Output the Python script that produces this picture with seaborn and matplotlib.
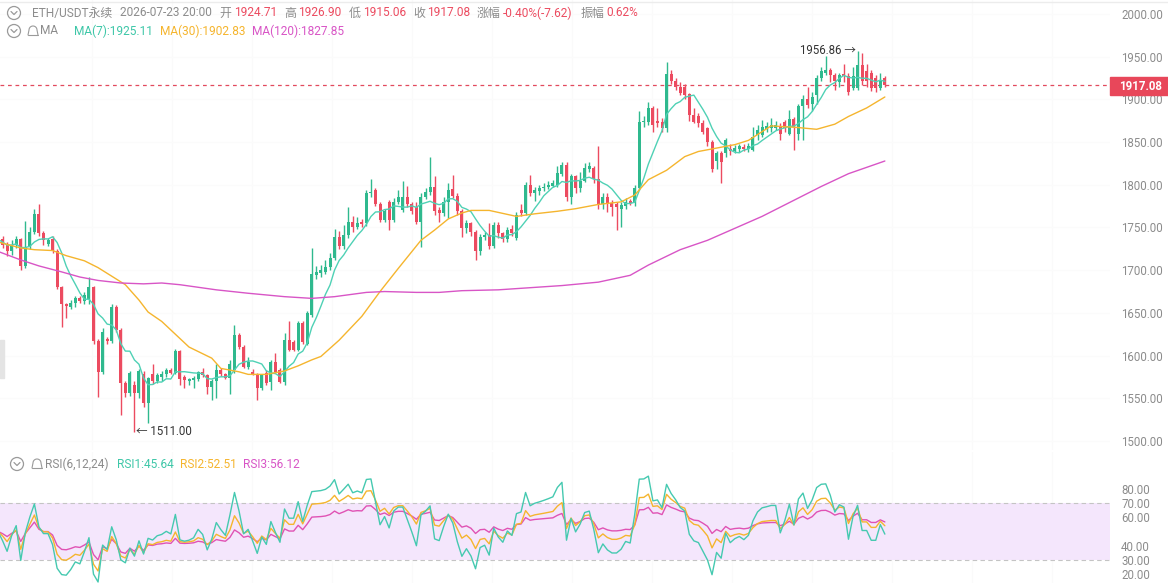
import numpy as np
import pandas as pd
import matplotlib
matplotlib.use("Agg")
import matplotlib.pyplot as plt
from matplotlib.patches import Rectangle, Ellipse
import seaborn as sns

# ---------------- data ----------------
opens = [1733,1736,1731,1722,1730,1736,1705,1727,1745,1766,1743,1731,1736,1723,1680,1660,1657,1661,1667,1664,
         1666,1680,1617,1581,1620,1617,1657,1630,1568,1556,1566,1556,1578,1545,1579,1570,1575,1578,1583,1580,
         1605,1575,1570,1571,1573,1581,1577,1563,1570,1583,1578,1574,1583,1624,1610,1587,1581,1577,1562,1580,
         1569,1593,1583,1569,1618,1616,1607,1638,1614,1648,1694,1697,1698,1704,1714,1739,1728,1741,1757,1751,
         1756,1755,1790,1794,1778,1759,1780,1759,1780,1770,1786,1778,1774,1757,1786,1791,1798,1770,1767,1780,
         1795,1787,1769,1749,1755,1745,1722,1739,1741,1728,1753,1743,1737,1748,1738,1771,1767,1800,1790,1793,
         1796,1797,1799,1800,1813,1823,1786,1810,1796,1805,1818,1820,1807,1778,1786,1779,1778,1772,1775,1781,
         1779,1796,1873,1874,1890,1875,1874,1866,1930,1921,1915,1915,1906,1882,1880,1872,1866,1850,1828,1837,
         1837,1842,1840,1842,1844,1842,1841,1858,1858,1865,1866,1867,1869,1873,1860,1877,1860,1892,1901,1895,
         1905,1925,1931,1934,1929,1920,1930,1927,1913,1913,1940,1933,1931,1925,1913,1924.71]
highs = [1738,1740,1733,1735,1740,1738,1758,1750,1772,1778,1746,1738,1740,1725,1682,1662,1665,1670,1670,1675,
         1692,1682,1620,1632,1622,1660,1659,1632,1570,1582,1570,1584,1582,1575,1590,1580,1582,1585,1585,1608,
         1607,1577,1574,1576,1582,1585,1579,1572,1590,1586,1580,1595,1636,1626,1612,1598,1584,1580,1579,1583,
         1595,1603,1585,1626,1641,1618,1640,1640,1652,1726,1705,1706,1712,1720,1748,1746,1753,1774,1763,1762,
         1760,1794,1807,1796,1780,1772,1782,1785,1794,1804,1799,1780,1780,1790,1796,1833,1810,1774,1786,1802,
         1811,1790,1772,1759,1757,1747,1742,1745,1755,1757,1757,1745,1750,1753,1768,1778,1803,1811,1798,1800,
         1802,1804,1806,1822,1827,1827,1813,1812,1815,1825,1827,1822,1845,1790,1790,1782,1780,1780,1784,1783,
         1800,1886,1880,1897,1892,1890,1878,1944,1935,1925,1920,1918,1908,1890,1884,1876,1868,1852,1840,1840,
         1855,1848,1847,1848,1848,1849,1868,1870,1876,1874,1878,1875,1872,1876,1888,1879,1895,1905,1915,1909,
         1928,1938,1951,1937,1931,1931,1942,1931,1938,1956.86,1954,1942,1935,1929,1931,1926.90]
lows = [1728,1726,1717,1718,1726,1700,1703,1725,1742,1740,1730,1728,1720,1678,1634,1644,1655,1657,1662,1660,
        1660,1614,1552,1578,1614,1615,1628,1530,1552,1553,1511,1550,1540,1521,1567,1568,1570,1575,1578,1578,
        1566,1562,1566,1562,1570,1575,1555,1548,1550,1576,1572,1555,1580,1608,1585,1584,1577,1548,1560,1565,
        1560,1580,1568,1565,1605,1605,1605,1614,1612,1645,1690,1692,1695,1700,1712,1725,1725,1738,1745,1748,
        1750,1752,1786,1775,1756,1757,1747,1757,1778,1768,1774,1766,1754,1727,1783,1788,1765,1757,1763,1761,
        1785,1765,1739,1743,1740,1712,1718,1735,1725,1726,1738,1733,1733,1740,1735,1764,1765,1787,1781,1788,
        1793,1795,1797,1798,1810,1781,1777,1790,1792,1803,1815,1802,1772,1772,1768,1763,1747,1751,1772,1776,
        1775,1794,1868,1870,1862,1868,1862,1862,1918,1911,1905,1900,1875,1872,1868,1860,1845,1815,1819,1802,
        1833,1835,1837,1838,1839,1838,1840,1853,1856,1862,1862,1864,1853,1862,1858,1841,1853,1853,1890,1886,
        1895,1922,1929,1920,1911,1915,1920,1905,1911,1911,1917,1915,1910,1909,1911,1915.06]
closes = [1736,1730,1722,1730,1736,1705,1727,1745,1766,1743,1735,1735,1723,1680,1660,1658,1662,1667,1664,1671,
          1680,1617,1581,1628,1617,1657,1630,1568,1556,1580,1556,1582,1545,1574,1570,1577,1579,1583,1580,1605,
          1573,1571,1572,1574,1581,1577,1563,1570,1583,1578,1574,1590,1624,1610,1587,1592,1579,1562,1577,1568,
          1593,1581,1569,1618,1607,1607,1638,1616,1650,1696,1698,1700,1704,1714,1739,1728,1741,1757,1751,1755,
          1754,1790,1792,1778,1759,1769,1759,1780,1786,1786,1778,1769,1757,1786,1791,1798,1769,1767,1780,1794,
          1787,1769,1749,1755,1745,1722,1739,1741,1728,1753,1743,1737,1747,1743,1765,1767,1800,1790,1794,1796,
          1798,1800,1802,1814,1823,1786,1810,1796,1805,1820,1822,1807,1778,1786,1778,1774,1774,1776,1780,1779,
          1796,1874,1875,1890,1870,1872,1866,1930,1921,1915,1908,1905,1882,1874,1872,1862,1850,1819,1837,1827,
          1852,1839,1843,1845,1842,1845,1856,1864,1868,1869,1870,1870,1860,1866,1877,1868,1892,1901,1893,1903,
          1925,1933,1934,1929,1921,1928,1927,1909,1927,1940,1921,1921,1913,1913,1923,1917.08]

ma30_idx = [0,5,8,12,15,19,22,25,28,31,33,36,38,42,47,49,53,55,59,63,66,69,71,75,80,84,88,93,96,99,102,104,
            108,114,118,123,127,132,137,140,143,147,151,154,158,162,165,170,176,180,184,187,191,195]
ma30_val = [1733,1726,1724,1723,1717,1711,1703,1693,1683,1665,1651,1640,1630,1610,1597,1585,1581,1578,1578,1582,
            1588,1595,1599,1618,1646,1675,1702,1735,1747,1760,1767,1770,1770,1763,1766,1769,1772,1777,1780,1788,
            1806,1817,1833,1839,1843,1847,1852,1869,1867,1865,1871,1880,1890,1902.83]
ma120_idx = [0,5,9,14,18,22,27,32,36,40,48,55,63,69,74,81,85,92,97,102,110,124,132,139,143,150,156,168,181,187,195]
ma120_val = [1722,1712,1705,1698,1692,1688,1685,1684,1685,1683,1677,1673,1669,1667,1669,1674,1675,1674,1674,1676,
             1677,1682,1686,1694,1706,1724,1735,1763,1798,1813,1827.85]

price_ticks = [1500, 1550, 1600, 1650, 1700, 1750, 1800, 1850, 1900, 1950, 2000]
rsi_ticks = [20, 30, 40, 60, 70, 80]
last_price = 1917.08
high_mark = 1956.86
low_mark = 1511.00

header_items = [("ETH/USDT永续", "g"), ("2026-07-23 20:00", "g"), ("开", "g"), ("1924.71", "r"),
                ("高", "g"), ("1926.90", "r"), ("低", "g"), ("1915.06", "r"), ("收", "g"), ("1917.08", "r"),
                ("涨幅", "g"), ("-0.40%(-7.62)", "r"), ("振幅", "g"), ("0.62%", "r")]
ma_header = [("MA", "g"), ("MA(7):1925.11", "t"), ("MA(30):1902.83", "y"), ("MA(120):1827.85", "m")]
rsi_header = [("RSI(6,12,24)", "g"), ("RSI1:45.64", "t"), ("RSI2:52.51", "y"), ("RSI3:56.12", "m")]

# ---------------- styling ----------------
sns.set_theme(style="white")
plt.rcParams['font.family'] = ['Roboto', 'Noto Sans CJK SC', 'DejaVu Sans']

GREEN = '#2fb98e'
RED = '#ec4b60'
TEAL = '#4fd1b5'
GOLD = '#f5b52e'
MAG = '#d855c6'
GRAY = '#8c8c8c'
cmap = {"g": GRAY, "r": RED, "t": '#3ec7a8', "y": GOLD, "m": MAG}

W, H = 1168, 583
fig = plt.figure(figsize=(W / 100, H / 100), dpi=100)
fig.patch.set_facecolor('white')

def fx(px):
    return px / W

def fy(py):
    return 1 - py / H

SPACING = 4.548
X0 = -2.0
def idx_at(px):
    return (px - X0) / SPACING

AX_R = 1110
ax = fig.add_axes([0, fy(450), fx(AX_R), (450) / H])
axr = fig.add_axes([0, 0, fx(AX_R), (583 - 452) / H])

n = len(closes)
df = pd.DataFrame({"i": np.arange(n), "open": opens, "high": highs, "low": lows, "close": closes})
df["ma7"] = df["close"].rolling(7, min_periods=1).mean()

# very faint grid
for a in (ax, axr):
    for gx in [92, 172, 252, 332, 412, 492, 572, 652, 732, 812, 892, 972, 1052]:
        a.axvline(idx_at(gx), color='#fafafa', lw=0.8, zorder=0)
for t in price_ticks:
    ax.axhline(t, color='#fbfbfb', lw=0.8, zorder=0)

# candles
up = df["close"] >= df["open"]
cols = np.where(up, GREEN, RED)
ax.vlines(df["i"], df["low"], df["high"], colors=cols, lw=1.0, zorder=2)
body_bot = np.minimum(df["open"], df["close"])
body_h = np.maximum(np.abs(df["close"] - df["open"]), 0.8)
ax.bar(df["i"], body_h, bottom=body_bot, width=0.66, color=cols, edgecolor=cols, linewidth=0, zorder=3)

# moving averages
sns.lineplot(x=df["i"], y=df["ma7"], ax=ax, color=TEAL, lw=1.0, zorder=4)
sns.lineplot(x=ma30_idx, y=ma30_val, ax=ax, color=GOLD, lw=1.0, zorder=4)
sns.lineplot(x=ma120_idx, y=ma120_val, ax=ax, color=MAG, lw=1.0, zorder=4)

ax.axhline(last_price, color='#e24a5e', lw=0.9, ls=(0, (3, 3)), zorder=1)

ax.set_xlim(idx_at(0), idx_at(AX_R))
ylo = 2000 - (450 - 14) * 1.171
yhi = 2000 + 14 * 1.171
ax.set_ylim(ylo, yhi)
ax.yaxis.tick_right()
ax.set_yticks(price_ticks)
ax.set_yticklabels([f"{t:.2f}" for t in price_ticks])
ax.tick_params(axis='y', length=0, pad=8, labelsize=8.3, labelcolor=GRAY)
ax.set_xticks([])
ax.set_xlabel("")
ax.set_ylabel("")
for s in ax.spines.values():
    s.set_visible(False)

ax.text(idx_at(856), high_mark, "1956.86 →", ha='right', va='center', fontsize=8.3, color='#333333')
ax.text(idx_at(136), low_mark, "← 1511.00", ha='left', va='center', fontsize=8.3, color='#333333')

# RSI (Wilder smoothing, started from a neutral state)
def rsi(values, nper, seed=4.0):
    ag, al = seed, seed
    out = [50.0]
    for k in range(1, len(values)):
        d = values[k] - values[k - 1]
        ag = (ag * (nper - 1) + max(d, 0)) / nper
        al = (al * (nper - 1) + max(-d, 0)) / nper
        out.append(100 * ag / (ag + al))
    return np.array(out)

df["rsi6"] = rsi(closes, 6)
df["rsi12"] = rsi(closes, 12)
df["rsi24"] = rsi(closes, 24)

axr.axhspan(30, 70, color='#f4e6fc', lw=0, zorder=0)
axr.axhline(70, color='#c4c4c4', lw=0.8, ls=(0, (4, 3)), zorder=1)
axr.axhline(30, color='#c4c4c4', lw=0.8, ls=(0, (4, 3)), zorder=1)
sns.lineplot(x=df["i"], y=df["rsi24"], ax=axr, color='#e052b4', lw=1.0, zorder=3)
sns.lineplot(x=df["i"], y=df["rsi12"], ax=axr, color=GOLD, lw=1.0, zorder=3)
sns.lineplot(x=df["i"], y=df["rsi6"], ax=axr, color='#45c9b0', lw=1.0, zorder=3)
axr.set_xlim(idx_at(0), idx_at(AX_R))
r_top = 70 + (503 - 452) / 1.42
r_bot = 70 - (583 - 503) / 1.42
axr.set_ylim(r_bot, r_top)
axr.yaxis.tick_right()
axr.set_yticks(rsi_ticks)
axr.set_yticklabels([f"{t:.2f}" for t in rsi_ticks])
axr.tick_params(axis='y', length=0, pad=8, labelsize=8.3, labelcolor=GRAY)
axr.set_xticks([])
axr.set_xlabel("")
axr.set_ylabel("")
axr.patch.set_alpha(0)
for s in axr.spines.values():
    s.set_visible(False)

# price tag
fig.patches.append(Rectangle((fx(1110), fy(95)), fx(58), 18 / H, transform=fig.transFigure,
                             color='#e8475a', zorder=5))
fig.text(fx(1141), fy(86), "1917.08", color='white', fontsize=8.3, fontweight='bold',
         ha='center', va='center', zorder=6)

# top border
fig.add_artist(plt.Line2D([0, 1], [fy(2), fy(2)], transform=fig.transFigure, color='#ececec', lw=1))
# left handle
fig.patches.append(Rectangle((0, fy(378)), fx(4), 38 / H, transform=fig.transFigure,
                             color='#e4e4e4', zorder=5))

def icon_circle(px, py):
    fig.patches.append(Ellipse((fx(px), fy(py)), 13 / W, 13 / H, transform=fig.transFigure, fill=False,
                               ec='#9a9a9a', lw=0.9))
    fig.add_artist(plt.Line2D([fx(px - 3), fx(px), fx(px + 3)], [fy(py - 1.5), fy(py + 1.5), fy(py - 1.5)],
                              transform=fig.transFigure, color='#9a9a9a', lw=0.9))

def icon_bell(px, py):
    t = np.linspace(0, np.pi, 20)
    xs = np.concatenate([[px - 5], px + 4 * np.cos(t[::-1]), [px + 5]])
    ys = np.concatenate([[py + 4], py - 1 - 4 * np.sin(t[::-1]), [py + 4]])
    fig.add_artist(plt.Line2D([fx(v) for v in xs], [fy(v) for v in ys], transform=fig.transFigure,
                              color='#9a9a9a', lw=0.8))
    fig.add_artist(plt.Line2D([fx(px - 5), fx(px + 5)], [fy(py + 4), fy(py + 4)], transform=fig.transFigure,
                              color='#9a9a9a', lw=0.8))

icon_circle(14, 13)
icon_circle(14, 31)
icon_bell(33, 31)
icon_circle(17, 464)
icon_bell(37, 464)

hx = [31.6, 120, 219.7, 233.6, 284.5, 298, 348.5, 362.8, 413.7, 427, 477, 503, 580.8, 606]
for (s, c), x in zip(header_items, hx):
    fig.text(fx(x), fy(13), s, color=cmap[c], fontsize=8.6, ha='left', va='center')
mx = [40, 73.6, 160, 251.7]
for (s, c), x in zip(ma_header, mx):
    fig.text(fx(x), fy(31), s, color=cmap[c], fontsize=8.6, ha='left', va='center')
rx = [45, 116.7, 180, 243.3]
for (s, c), x in zip(rsi_header, rx):
    fig.text(fx(x), fy(464), s, color=cmap[c], fontsize=8.6, ha='left', va='center')

fig.savefig("out.png", dpi=100, facecolor='white')
